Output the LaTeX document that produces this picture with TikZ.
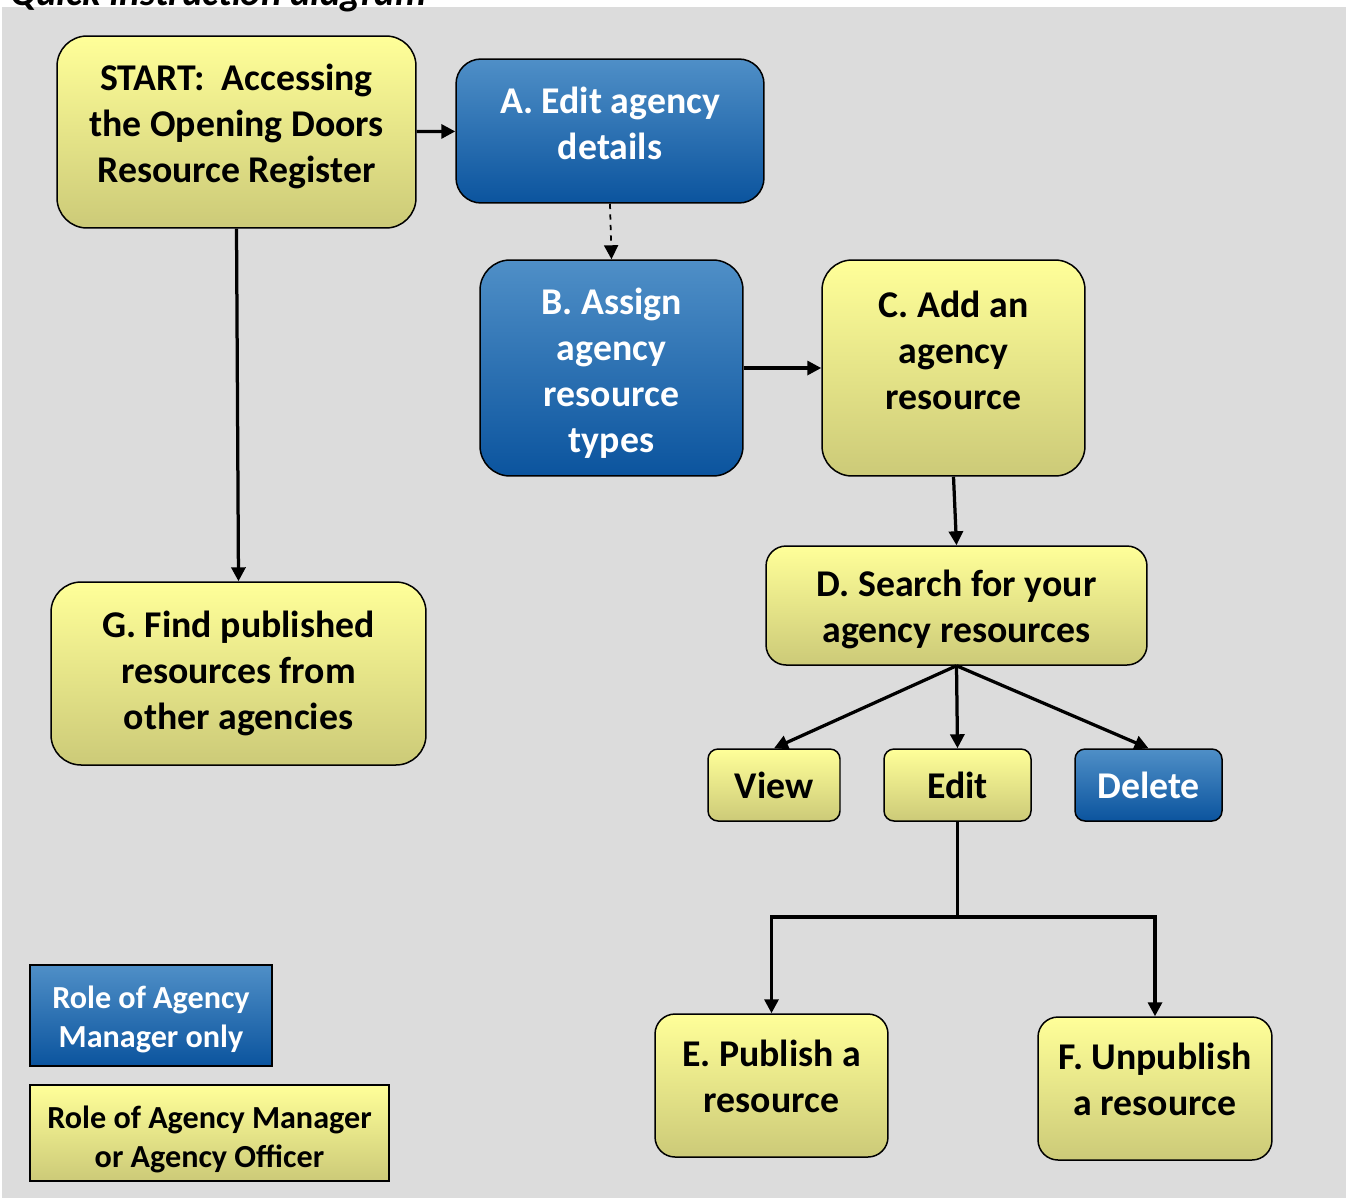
\documentclass[tikz,border=0pt]{standalone}
\usepackage{fontspec}
\setmainfont{Carlito}
\usetikzlibrary{arrows.meta}

\definecolor{paletop}{HTML}{FFFF99}
\definecolor{palebot}{HTML}{CCCA78}
\definecolor{bluetop}{HTML}{4F8FC7}
\definecolor{bluebot}{HTML}{0B549E}
\definecolor{canvas}{HTML}{DCDCDC}

\begin{document}
\begin{tikzpicture}[x=0.02cm,y=-0.02cm,
    yellowbox/.style={draw=black,line width=0.03cm,rounded corners=0.5cm,top color=paletop,bottom color=palebot,
        align=center,inner sep=0pt,font=\bfseries\fontsize{21.5}{26.2}\selectfont},
    bluebox/.style={yellowbox,top color=bluetop,bottom color=bluebot,text=white},
    keybox/.style={rounded corners=0pt,font=\bfseries\fontsize{18.3}{22.2}\selectfont},
    flow/.style={line width=0.065cm,black,-{Triangle[length=0.28cm,width=0.28cm]}}]

    \useasboundingbox (0,0) rectangle (1348,1198);
    \fill[canvas] (2,7) rectangle (1346,1198);
    \node[anchor=base west,inner sep=0pt,font=\bfseries\itshape\fontsize{22}{26}\selectfont] (title) at (10,5) {Quick Instruction diagram};

    \node[yellowbox,rounded corners=0.6cm,minimum width=7.18cm,minimum height=3.84cm,text depth=0.34cm] (start) at (236.5,132) {START:~ Accessing\\the Opening Doors\\Resource Register};
    \node[bluebox,minimum width=6.16cm,minimum height=2.88cm,text depth=0.32cm] (edita) at (610,131) {A. Edit agency\\details};
    \node[bluebox,rounded corners=0.6cm,minimum width=5.26cm,minimum height=4.32cm] (assignb) at (611.5,368) {\rule{0pt}{0.74cm}B. Assign\\agency\\resource\\types};
    \node[yellowbox,rounded corners=0.6cm,minimum width=5.26cm,minimum height=4.32cm,text depth=0.72cm] (addc) at (953.5,368) {C. Add an\\agency\\resource};
    \node[yellowbox,rounded corners=0.4cm,minimum width=7.62cm,minimum height=2.38cm] (searchd) at (956.5,605.5) {\rule{0pt}{0.68cm}D. Search for your\\agency resources};
    \node[yellowbox,rounded corners=0.6cm,minimum width=7.5cm,minimum height=3.66cm] (findg) at (238.5,673.5) {G. Find published\\resources from\\other agencies};

    \node[yellowbox,rounded corners=0.2cm,minimum width=2.64cm,minimum height=1.44cm] (view) at (774,785) {View};
    \node[yellowbox,rounded corners=0.2cm,minimum width=2.94cm,minimum height=1.44cm] (edit) at (957.5,785) {Edit};
    \node[bluebox,rounded corners=0.2cm,minimum width=2.94cm,minimum height=1.44cm] (delete) at (1148.5,785) {Delete};

    \node[yellowbox,rounded corners=0.4cm,minimum width=4.66cm,minimum height=2.86cm,text depth=0.36cm] (publishe) at (771.5,1085.5) {E. Publish a\\resource};
    \node[yellowbox,rounded corners=0.4cm,minimum width=4.68cm,minimum height=2.86cm,text depth=0.38cm] (unpublishf) at (1155,1088.5) {F. Unpublish\\a resource};

    \node[bluebox,keybox,minimum width=4.84cm,minimum height=2.02cm] (keyblue) at (151,1015.5) {\rule{0pt}{0.59cm}Role of Agency\\Manager only};
    \node[yellowbox,keybox,minimum width=7.18cm,minimum height=1.92cm] (keyyellow) at (209.5,1133) {\rule{0pt}{0.69cm}Role of Agency Manager\\or Agency Officer};

    \draw[flow] (start) -- (edita);
    \draw[flow,line width=0.035cm,dashed] (edita.south) -- (assignb.north);
    \draw[flow] (start.south) -- (findg.north);
    \draw[flow] (assignb) -- (addc);
    \draw[flow] (addc.south) -- (searchd.north);

    \draw[flow] (searchd.south) -- (view.north);
    \draw[flow] (searchd.south) -- (edit.north);
    \draw[flow] (searchd.south) -- (delete.north);

    \coordinate (split) at (957.5,917);
    \draw[flow] (edit.south) -- (split) -| (publishe.north);
    \draw[flow] (split) -| (unpublishf.north);
\end{tikzpicture}
\end{document}
